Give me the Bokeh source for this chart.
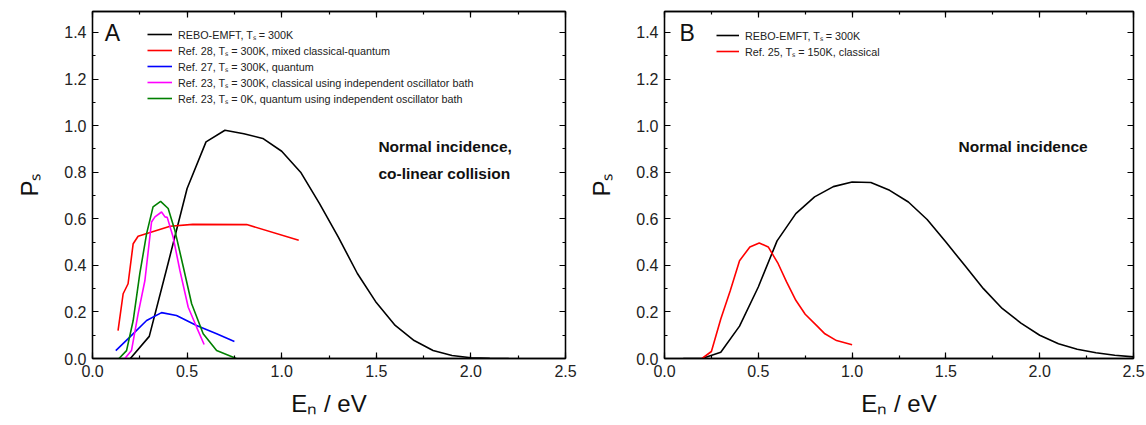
from bokeh.plotting import figure
from bokeh.models import (Range1d, LinearAxis, SingleIntervalTicker, PrintfTickFormatter,
                          Legend, LegendItem, Label, CustomJSTickFormatter)
from bokeh.layouts import row
from bokeh.embed import file_html
from bokeh.resources import INLINE

# ---------------- data: panel A ----------------
a_rebo_x = [0.2, 0.3, 0.4, 0.5, 0.6, 0.7, 0.8, 0.9, 1.0, 1.1, 1.2, 1.3, 1.4, 1.5, 1.6, 1.7, 1.8, 1.9, 2.0, 2.1, 2.2]
a_rebo_y = [0.0, 0.095, 0.41, 0.73, 0.93, 0.98, 0.965, 0.945, 0.89, 0.80, 0.665, 0.52, 0.365, 0.24, 0.142, 0.077, 0.034, 0.013, 0.003, 0.001, 0.0]

a_ref28_x = [0.135, 0.162, 0.188, 0.215, 0.241, 0.41, 0.53, 0.815, 1.09]
a_ref28_y = [0.12, 0.278, 0.321, 0.493, 0.525, 0.568, 0.576, 0.575, 0.508]

a_ref27_x = [0.123, 0.197, 0.286, 0.365, 0.444, 0.55, 0.656, 0.75]
a_ref27_y = [0.034, 0.092, 0.163, 0.197, 0.185, 0.142, 0.106, 0.073]

a_ref23c_x = [0.171, 0.206, 0.241, 0.277, 0.312, 0.33, 0.365, 0.383, 0.395, 0.426, 0.462, 0.506, 0.55, 0.59]
a_ref23c_y = [0.0, 0.034, 0.192, 0.335, 0.586, 0.608, 0.629, 0.608, 0.606, 0.522, 0.378, 0.22, 0.135, 0.06]

a_ref23q_x = [0.14, 0.18, 0.215, 0.25, 0.286, 0.32, 0.36, 0.40, 0.435, 0.48, 0.524, 0.585, 0.656, 0.76]
a_ref23q_y = [0.0, 0.034, 0.163, 0.364, 0.536, 0.651, 0.675, 0.644, 0.551, 0.393, 0.235, 0.106, 0.034, 0.0]

# ---------------- data: panel B ----------------
b_rebo_x = [0.1, 0.2, 0.3, 0.4, 0.5, 0.6, 0.7, 0.8, 0.9, 1.0, 1.1, 1.2, 1.3, 1.4, 1.5, 1.6, 1.7, 1.8, 1.9, 2.0, 2.1, 2.2, 2.3, 2.4, 2.5]
b_rebo_y = [0.0, 0.0, 0.027, 0.139, 0.307, 0.505, 0.622, 0.694, 0.738, 0.758, 0.756, 0.722, 0.672, 0.597, 0.50, 0.40, 0.30, 0.215, 0.152, 0.10, 0.063, 0.04, 0.025, 0.014, 0.007]

b_ref25_x = [0.2, 0.25, 0.3, 0.35, 0.4, 0.455, 0.505, 0.553, 0.606, 0.65, 0.70, 0.75, 0.81, 0.855, 0.917, 1.0]
b_ref25_y = [0.0, 0.03, 0.17, 0.29, 0.42, 0.479, 0.496, 0.479, 0.407, 0.33, 0.25, 0.19, 0.142, 0.106, 0.077, 0.059]

x_ticks_interval = 0.5
y_ticks_interval = 0.2
x_label = "Eₙ / eV"
y_label = "Pₛ"

FONT = "Liberation Sans"


def style_axes(p):
    p.xgrid.visible = False
    p.ygrid.visible = False
    p.outline_line_color = "black"
    p.outline_line_width = 1.3
    p.background_fill_color = "white"
    p.border_fill_color = "white"
    xt = SingleIntervalTicker(interval=x_ticks_interval, num_minor_ticks=2)
    yt = SingleIntervalTicker(interval=y_ticks_interval, num_minor_ticks=2)
    for ax in p.xaxis:
        ax.ticker = xt
        ax.formatter = PrintfTickFormatter(format="%.1f")
        ax.axis_label = x_label
        ax.axis_label_text_font = FONT
        ax.axis_label_text_font_size = "24px"
        ax.axis_label_text_font_style = "normal"
        ax.axis_label_text_color = "#111111"
        ax.axis_label_standoff = 10
    for ax in p.yaxis:
        ax.ticker = yt
        ax.formatter = PrintfTickFormatter(format="%.1f")
        ax.axis_label = y_label
        ax.axis_label_text_font = FONT
        ax.axis_label_text_font_size = "24px"
        ax.axis_label_text_font_style = "normal"
        ax.axis_label_text_color = "#111111"
        ax.axis_label_standoff = 18
    for ax in list(p.xaxis) + list(p.yaxis):
        ax.major_tick_in = 6
        ax.major_tick_out = 0
        ax.minor_tick_in = 3
        ax.minor_tick_out = 0
        ax.axis_line_width = 1.3
        ax.major_tick_line_width = 1.2
        ax.minor_tick_line_width = 1.2
        ax.major_label_text_font = FONT
        ax.major_label_text_font_size = "16px"
        ax.major_label_text_color = "#222222"
        ax.major_label_standoff = 6
    # mirrored axes (ticks only)
    top = LinearAxis(ticker=xt, formatter=CustomJSTickFormatter(code="return ''"))
    right = LinearAxis(ticker=yt, formatter=CustomJSTickFormatter(code="return ''"))
    for ax in (top, right):
        ax.major_tick_in = 6
        ax.major_tick_out = 0
        ax.minor_tick_in = 3
        ax.minor_tick_out = 0
        ax.axis_line_width = 1.3
        ax.major_tick_line_width = 1.2
        ax.minor_tick_line_width = 1.2
        ax.major_label_standoff = 0
        ax.major_label_text_font_size = "1px"
    p.add_layout(top, "above")
    p.add_layout(right, "right")


def make_fig(left, frame_w, right):
    p = figure(output_backend="svg", toolbar_location=None,
               frame_width=frame_w, frame_height=347,
               min_border_left=left, min_border_right=right,
               min_border_top=11, min_border_bottom=67,
               x_range=Range1d(0, 2.5), y_range=Range1d(0, 1.49))
    style_axes(p)
    return p


def style_legend(lg):
    lg.border_line_color = None
    lg.background_fill_alpha = 0
    lg.padding = 0
    lg.margin = 0
    lg.spacing = 0
    lg.glyph_width = 25
    lg.glyph_height = 16
    lg.label_height = 16
    lg.label_standoff = 6
    lg.label_text_font = FONT
    lg.label_text_font_size = "10.8px"
    lg.label_text_color = "#222222"


# ---------------- panel A ----------------
pA = make_fig(92, 473, 20)
lw = 1.6
rA0 = pA.line(a_rebo_x, a_rebo_y, line_color="black", line_width=lw)
rA1 = pA.line(a_ref28_x, a_ref28_y, line_color="#ff0000", line_width=lw)
rA2 = pA.line(a_ref27_x, a_ref27_y, line_color="#0000ff", line_width=lw)
rA3 = pA.line(a_ref23c_x, a_ref23c_y, line_color="#ff00ff", line_width=lw)
rA4 = pA.line(a_ref23q_x, a_ref23q_y, line_color="#008000", line_width=lw)

legA = Legend(items=[
    LegendItem(label="REBO-EMFT, Tₛ = 300K", renderers=[rA0]),
    LegendItem(label="Ref. 28, Tₛ = 300K, mixed classical-quantum", renderers=[rA1]),
    LegendItem(label="Ref. 27, Tₛ = 300K, quantum", renderers=[rA2]),
    LegendItem(label="Ref. 23, Tₛ = 300K, classical using independent oscillator bath", renderers=[rA3]),
    LegendItem(label="Ref. 23, Tₛ = 0K, quantum using independent oscillator bath", renderers=[rA4]),
], location=(55, 252))
style_legend(legA)
pA.add_layout(legA)

pA.add_layout(Label(x=0.065, y=1.398, text="A", text_font=FONT, text_font_size="23px",
                    text_baseline="middle", text_color="#111111"))
pA.add_layout(Label(x=1.511, y=0.909, text="Normal incidence,", text_font=FONT,
                    text_font_size="15.5px", text_font_style="bold", text_baseline="middle",
                    text_color="#111111"))
pA.add_layout(Label(x=1.511, y=0.796, text="co-linear collision", text_font=FONT,
                    text_font_size="15.5px", text_font_style="bold", text_baseline="middle",
                    text_color="#111111"))

# ---------------- panel B ----------------
pB = make_fig(73, 469, 19)
rB0 = pB.line(b_rebo_x, b_rebo_y, line_color="black", line_width=lw)
rB1 = pB.line(b_ref25_x, b_ref25_y, line_color="#ff0000", line_width=lw)
legB = Legend(items=[
    LegendItem(label="REBO-EMFT, Tₛ = 300K", renderers=[rB0]),
    LegendItem(label="Ref. 25, Tₛ = 150K, classical", renderers=[rB1]),
], location=(52, 299))
style_legend(legB)
legB.glyph_width = 23
pB.add_layout(legB)
pB.add_layout(Label(x=0.08, y=1.398, text="B", text_font=FONT, text_font_size="23px",
                    text_baseline="middle", text_color="#111111"))
pB.add_layout(Label(x=1.567, y=0.912, text="Normal incidence", text_font=FONT,
                    text_font_size="15.5px", text_font_style="bold", text_baseline="middle",
                    text_color="#111111"))

layout = row(pA, pB)
open("out.html", "w").write(file_html(layout, INLINE))
